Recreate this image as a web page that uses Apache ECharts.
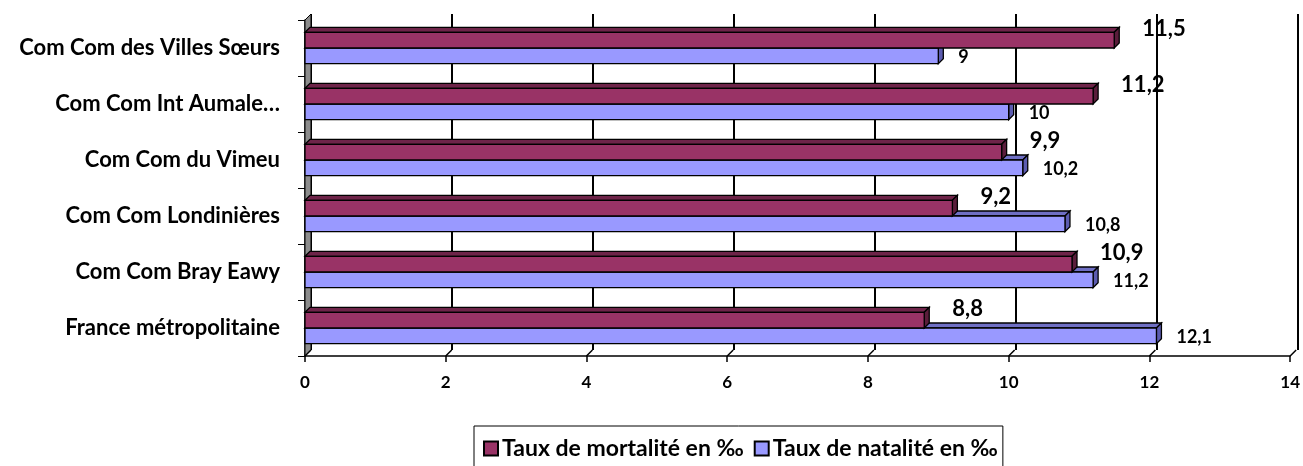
<!DOCTYPE html>
<html>
<head>
<meta charset="utf-8">
<script src="https://cdn.jsdelivr.net/npm/echarts@6/dist/echarts.min.js"></script>
<style>
  html, body { margin: 0; padding: 0; background: #fff; }
  #chart { width: 1303px; height: 466px; }
</style>
</head>
<body>
<div id="chart"></div>
<script>
// data (top to bottom)
var categories = ['Com Com des Villes Sœurs', 'Com Com Int Aumale…', 'Com Com du Vimeu',
  'Com Com Londinières', 'Com Com Bray Eawy', 'France métropolitaine'];
var mortalite = [11.5, 11.2, 9.9, 9.2, 10.9, 8.8];
var natalite = [9, 10, 10.2, 10.8, 11.2, 12.1];
var xTicks = [0, 2, 4, 6, 8, 10, 12, 14];

var FONT = 'Lato, "Open Sans", sans-serif';
var D = 5;      // bar depth
var WALL = 6;   // back wall offset

function asComma(v) { return String(v).replace('.', ','); }

// 3d-looking bar: top face, side face, front face + value label
function barRenderer(which, front, top, side) {
  return function (params, api) {
    var cat = api.value(1);
    var v = api.value(0);
    var p0 = api.coord([0, cat]);
    var p1 = api.coord([v, cat]);
    var band = api.size([0, 1])[1];
    var h = band * 0.28;
    var y0 = which === 0 ? p0[1] - h : p0[1];
    var y1 = y0 + h;
    var x0 = p0[0], x1 = p1[0];
    var st = { stroke: '#000', lineWidth: 1.3 };
    var label = {
      type: 'text',
      x: which === 0 ? x1 + 28 : x1 + 20,
      y: which === 0 ? p0[1] - 19 : p0[1] + 9,
      style: {
        text: asComma(v),
        fontFamily: FONT,
        fontWeight: 'bold',
        fontSize: which === 0 ? 22 : 18,
        fill: '#000',
        verticalAlign: 'middle'
      }
    };
    return {
      type: 'group',
      children: [
        { type: 'polygon', shape: { points: [[x0, y0], [x0 + D, y0 - D], [x1 + D, y0 - D], [x1, y0]] },
          style: Object.assign({ fill: top }, st) },
        { type: 'polygon', shape: { points: [[x1, y0], [x1 + D, y0 - D], [x1 + D, y1 - D], [x1, y1]] },
          style: Object.assign({ fill: side }, st) },
        { type: 'rect', shape: { x: x0, y: y0, width: x1 - x0, height: h },
          style: Object.assign({ fill: front }, st) },
        label
      ]
    };
  };
}

// floor edges: from each front tick back to the wall gridline
function floorRenderer(params, api) {
  var t = api.value(0);
  var p = api.coord([t, categories.length - 1]);
  var band = api.size([0, 1])[1];
  var y = p[1] + band / 2;
  return {
    type: 'line',
    shape: { x1: p[0], y1: y, x2: p[0] + WALL, y2: y - WALL },
    style: { stroke: '#000', lineWidth: 1.5 }
  };
}

var chart = echarts.init(document.getElementById('chart'));

var option = {
  animation: false,
  backgroundColor: '#fff',
  grid: [
    { left: 305, right: 11, top: 20, bottom: 110 },                       // front plane
    { left: 305 + WALL, right: 11 - WALL, top: 20 - WALL, bottom: 110 + WALL } // back wall
  ],
  xAxis: [
    {
      gridIndex: 0, type: 'value', min: 0, max: 14, interval: 2,
      axisLine: { show: true, lineStyle: { color: '#000', width: 1.5 } },
      axisTick: { show: true, length: 6, lineStyle: { color: '#000', width: 1.5 } },
      axisLabel: { color: '#000', fontFamily: FONT, fontWeight: 'bold', fontSize: 17, margin: 18 },
      splitLine: { show: false }
    },
    {
      gridIndex: 1, type: 'value', min: 0, max: 14, interval: 2,
      axisLine: { show: false }, axisTick: { show: false }, axisLabel: { show: false },
      splitLine: { show: true, lineStyle: { color: '#000', width: 2 } }
    }
  ],
  yAxis: [
    {
      gridIndex: 0, type: 'category', data: categories, inverse: true,
      axisLine: { show: true, lineStyle: { color: '#000', width: 1.5 } },
      axisTick: { show: true, length: 7, alignWithLabel: false, lineStyle: { color: '#000', width: 1 } },
      axisLabel: { color: '#000', fontFamily: FONT, fontWeight: 'bold', fontSize: 22, margin: 25 }
    },
    {
      gridIndex: 1, type: 'category', data: categories, inverse: true, show: false
    }
  ],
  legend: {
    data: ['Taux de mortalité en ‰', 'Taux de natalité en ‰'],
    left: 474, top: 426,
    itemWidth: 14, itemHeight: 14, itemGap: 10,
    padding: [11, 5, 12, 9],
    borderColor: '#000', borderWidth: 1,
    textStyle: { color: '#000', fontFamily: FONT, fontWeight: 'bold', fontSize: 23, padding: [0, 0, 0, -1] },
    icon: 'rect'
  },
  graphic: [
    { type: 'polygon', z: 1, shape: { points: [[305, 20], [305 + WALL, 20 - WALL], [305 + WALL, 356 - WALL], [305, 356]] },
      style: { fill: '#8c8c8c', stroke: '#000', lineWidth: 1 } }
  ],
  series: [
    {
      name: 'Taux de mortalité en ‰', type: 'custom', z: 4,
      xAxisIndex: 0, yAxisIndex: 0,
      itemStyle: { color: '#993366', borderColor: '#000', borderWidth: 2 },
      renderItem: barRenderer(0, '#993366', '#6e2449', '#5a1d3b'),
      encode: { x: 0, y: 1 },
      data: mortalite.map(function (v, i) { return [v, i]; })
    },
    {
      name: 'Taux de natalité en ‰', type: 'custom', z: 3,
      xAxisIndex: 0, yAxisIndex: 0,
      itemStyle: { color: '#9999ff', borderColor: '#000', borderWidth: 2 },
      renderItem: barRenderer(1, '#9999ff', '#6f6fc4', '#5c5cb0'),
      encode: { x: 0, y: 1 },
      data: natalite.map(function (v, i) { return [v, i]; })
    },
    {
      name: 'floor', type: 'custom', z: 2, silent: true,
      xAxisIndex: 0, yAxisIndex: 0,
      renderItem: floorRenderer,
      encode: { x: 0 },
      data: xTicks.map(function (t) { return [t]; })
    }
  ]
};

chart.setOption(option);
</script>
</body>
</html>
